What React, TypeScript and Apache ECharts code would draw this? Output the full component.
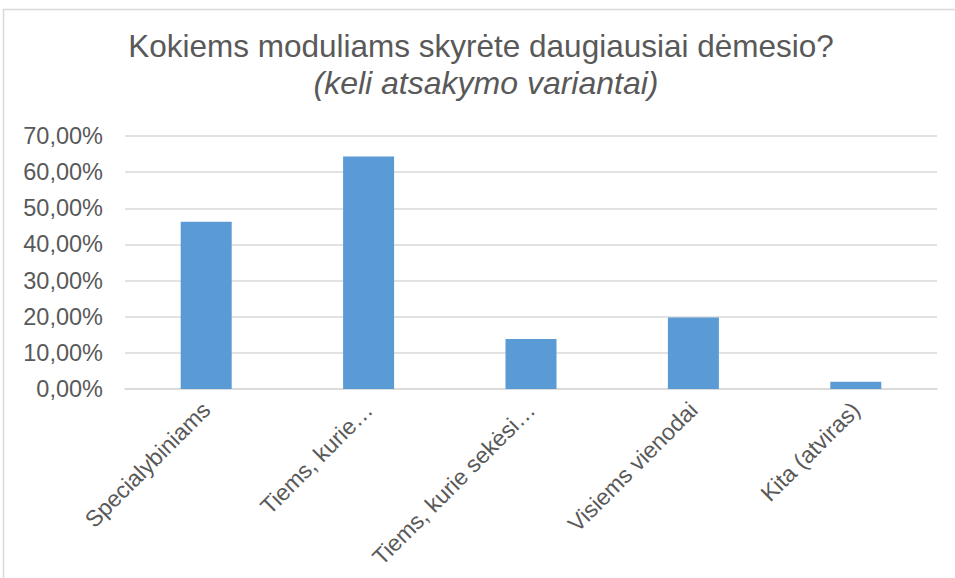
import React, { useEffect, useRef } from "react";
import * as echarts from "echarts";

const titleText = "Kokiems moduliams skyrėte daugiausiai dėmesio?";
const subtitleText = "(keli atsakymo variantai)";
const categories = [
  "Specialybiniams",
  "Tiems, kurie…",
  "Tiems, kurie sekėsi…",
  "Visiems vienodai",
  "Kita (atviras)",
];
const values = [0.463, 0.643, 0.138, 0.198, 0.02];

const fmt = (v: number) => (v * 100).toFixed(2).replace(".", ",") + "%";

export default function App() {
  const ref = useRef<HTMLDivElement>(null);
  useEffect(() => {
    if (!ref.current) return;
    const chart = echarts.init(ref.current, undefined, { renderer: "svg" });
    const txt = "#595959";
    const font = "'Liberation Sans', Arial, sans-serif";
    chart.setOption({
      animation: false,
      backgroundColor: "#ffffff",
      title: [
        {
          text: titleText,
          left: 481,
          textAlign: "center",
          top: 30,
          padding: 0,
          textStyle: { color: txt, fontSize: 31.5, fontWeight: "normal", fontFamily: font },
        },
        {
          text: subtitleText,
          left: 486,
          textAlign: "center",
          top: 67,
          padding: 0,
          textStyle: {
            color: txt,
            fontSize: 32,
            fontWeight: "normal",
            fontStyle: "italic",
            fontFamily: font,
          },
        },
      ],
      grid: {
        left: 125,
        right: 18,
        top: 136,
        bottom: 189,
        containLabel: false,
        outerBoundsMode: "none",
      },
      xAxis: {
        type: "category",
        data: categories,
        axisLine: { show: true, lineStyle: { color: "#d9d9d9", width: 1.5 } },
        axisTick: { show: false },
        axisLabel: {
          rotate: 45,
          interval: 0,
          margin: 17,
          color: txt,
          fontSize: 23,
          fontFamily: font,
        },
      },
      yAxis: {
        type: "value",
        min: 0,
        max: 0.7,
        interval: 0.1,
        axisLine: { show: false },
        axisTick: { show: false },
        splitLine: { lineStyle: { color: "#d9d9d9", width: 1.5 } },
        axisLabel: {
          formatter: (v: number) => fmt(v),
          color: txt,
          fontSize: 23.5,
          margin: 22,
          fontFamily: font,
        },
      },
      series: [
        {
          type: "bar",
          data: values,
          barWidth: 51,
          itemStyle: { color: "#5b9bd5" },
        },
      ],
      graphic: [
        {
          type: "rect",
          shape: { x: 3.5, y: 9.5, width: 1000, height: 1000 },
          style: { fill: "none", stroke: "#d9d9d9", lineWidth: 1.5 },
          silent: true,
          z: 100,
        },
      ],
    });
    return () => chart.dispose();
  }, []);
  return (
    <div
      ref={ref}
      style={{ position: "fixed", left: 0, top: 0, width: 955, height: 578 }}
    />
  );
}
